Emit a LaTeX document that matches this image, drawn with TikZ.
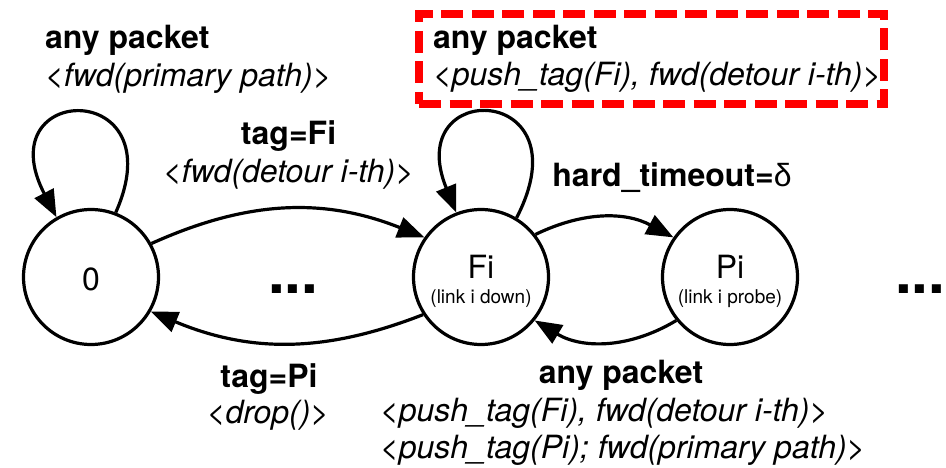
\documentclass[tikz,border=0pt]{standalone}
\usepackage{fontspec}
\setmainfont{TeX Gyre Heros}
\newfontfamily\greekfont{Liberation Sans}
\usetikzlibrary{arrows.meta}
\begin{document}
\begin{tikzpicture}[x=1pt,y=1pt,
  state/.style={circle, draw, line width=3.2pt, minimum size=135pt, inner sep=0pt},
  arc/.style={line width=3.2pt, -{Triangle[length=27pt,width=21pt]}},
  bl/.style={inner sep=0pt, anchor=base, font=\fontsize{32}{38}\selectfont\bfseries},
  il/.style={inner sep=0pt, anchor=base, font=\fontsize{32}{38}\selectfont\itshape},
  nt/.style={inner sep=0pt, anchor=base, font=\fontsize{32}{38}\selectfont},
  st/.style={inner sep=0pt, anchor=base, font=\fontsize{19}{22}\selectfont},
  dots/.style={inner sep=0pt, anchor=base west, font=\fontsize{60}{60}\selectfont\bfseries},
  hlbox/.style={draw=red, line width=8pt, dash pattern=on 22pt off 8.5pt,
    minimum width=465pt, minimum height=90pt, inner sep=0pt}]
\useasboundingbox (0,0) rectangle (946,-468);

% states
\node[state] (s0) at (91,-277) {};
\node[state] (sF) at (481,-277) {};
\node[state] (sP) at (730,-277) {};
\node[nt] (t0) at (91,-290) {0};
\node[nt] (tF) at (481,-278) {Fi};
\node[st] (tFs) at (481,-303) {(link i down)};
\node[nt] (tP) at (730,-278) {Pi};
\node[st] (tPs) at (730,-303) {(link i probe)};

% ellipses
\node[dots] (d1) at (268,-293) {...};
\node[dots] (d2) at (895,-293) {...};

% transitions
\draw[arc] (s0.69) .. controls +(60,135) and +(-70,135) .. (s0.120);
\draw[arc] (sF.59) .. controls +(70,135) and +(-55,135) .. (sF.111);
\draw[arc] (s0.29) to[bend left=23] (sF.145);
\draw[arc] (sF.213) to[bend left=22] (s0.330);
\draw[arc] (sF.38) to[bend left=27] (sP.145);
\draw[arc] (sP.219) to[bend left=31] (sF.321);

% labels
\node[bl, anchor=base west] (tlA) at (45,-49) {any packet};
\node[il, anchor=base west] (tlB) at (45,-87) {<fwd(primary path)>};

\node[hlbox] (hl) at (651.5,-59) {};
\node[bl, anchor=base west] (hlA) at (433,-49) {any packet};
\node[il, anchor=base west] (hlB) at (433,-86) {<push\_tag(Fi), fwd(detour i-th)>};

\node[bl] (fA) at (288.5,-145) {tag=Fi};
\node[il] (fB) at (288.5,-183) {<fwd(detour i-th)>};

\node[bl] (ht) at (672,-187) {hard\_timeout={\greekfont\mdseries δ}};

\node[bl] (pA) at (269,-387) {tag=Pi};
\node[il] (pB) at (268,-423) {<drop()>};

\node[bl] (aA) at (621,-383) {any packet};
\node[il, anchor=base west] (aB) at (380,-421) {<push\_tag(Fi), fwd(detour i-th)>};
\node[il, anchor=base west] (aC) at (380,-458) {<push\_tag(Pi); fwd(primary path)>};
\end{tikzpicture}
\end{document}
